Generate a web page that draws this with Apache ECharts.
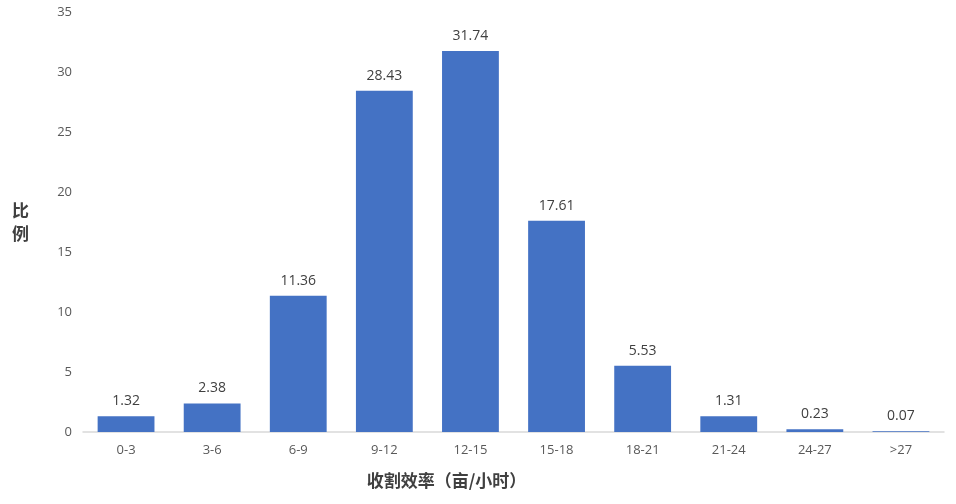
<!DOCTYPE html>
<html><head><meta charset="utf-8">
<script src="https://cdn.jsdelivr.net/npm/echarts@6/dist/echarts.min.js"></script>
<style>html,body{margin:0;padding:0;background:#fff}#c{width:956px;height:504px}</style>
</head><body><div id="c"></div>
<script>
const categories = ['0-3','3-6','6-9','9-12','12-15','15-18','18-21','21-24','24-27','>27'];
const values = [1.32,2.38,11.36,28.43,31.74,17.61,5.53,1.31,0.23,0.07];
const yTicks = {min:0, max:35, interval:5};
const xName = '收割效率（亩/小时）';
const yName = '比\n例';
const FF = '"Open Sans","Noto Sans CJK SC",sans-serif';
const chart = echarts.init(document.getElementById('c'));
chart.setOption({
  animation:false,
  textStyle:{fontFamily:FF},
  grid:{left:83,right:12,top:12,bottom:72},
  xAxis:{type:'category',data:categories,
    axisLine:{lineStyle:{color:'#D9D9D9',width:1.5}},axisTick:{show:false},
    axisLabel:{color:'#595959',fontSize:13,margin:12,fontFamily:FF},
    name:xName,nameLocation:'middle',nameGap:40,
    nameTextStyle:{color:'#404040',fontSize:17,fontWeight:'bold',fontFamily:'"Noto Sans CJK SC",sans-serif',padding:[0,134,0,0]}},
  yAxis:{type:'value',min:yTicks.min,max:yTicks.max,interval:yTicks.interval,
    axisLine:{show:false},axisTick:{show:false},splitLine:{show:false},
    axisLabel:{color:'#595959',fontSize:13,margin:11,fontFamily:FF},
    name:yName,nameLocation:'middle',nameRotate:0,nameGap:54,
    nameTextStyle:{color:'#404040',fontSize:17,fontWeight:'bold',lineHeight:23,fontFamily:'"Noto Sans CJK SC",sans-serif'}},
  series:[{type:'bar',data:values,barCategoryGap:'34%',
    itemStyle:{color:'#4472C4'},
    label:{show:true,position:'top',distance:8,color:'#404040',fontSize:14,fontFamily:FF}}]
});
</script></body></html>
